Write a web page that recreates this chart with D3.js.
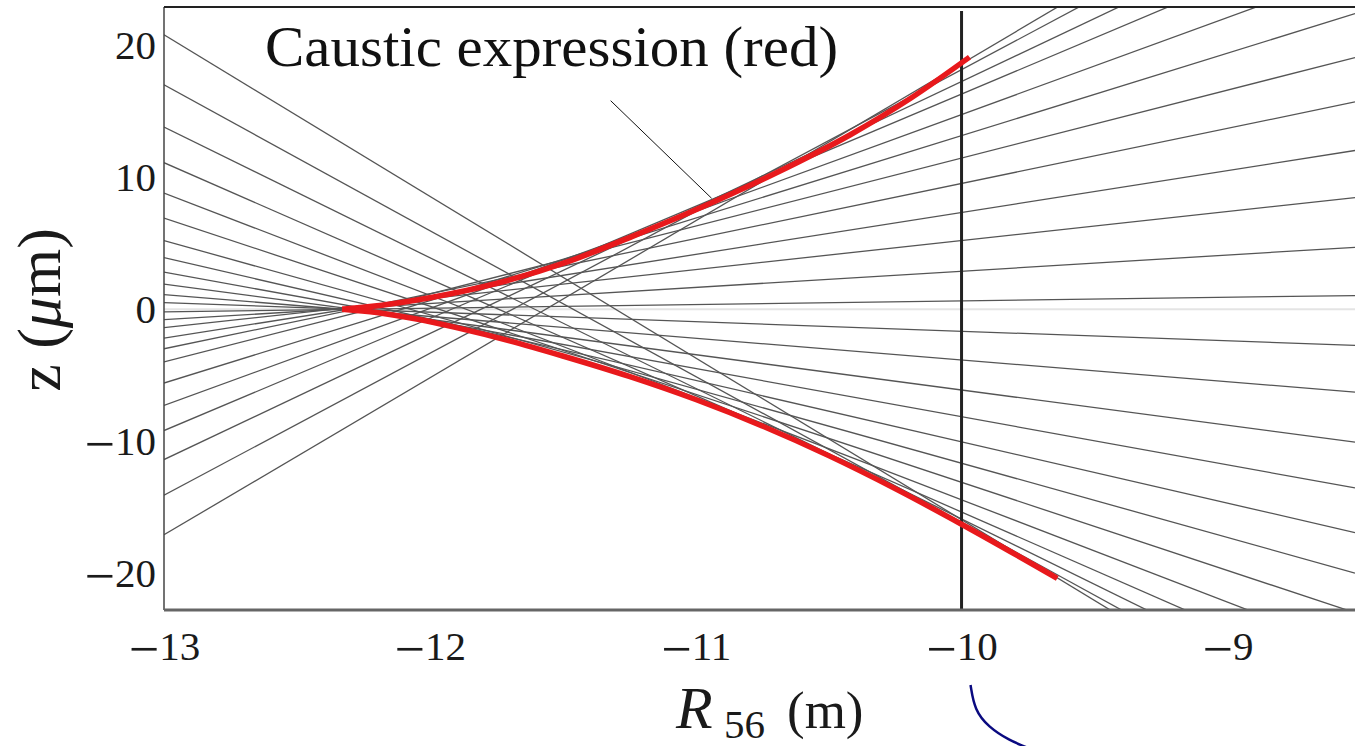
<!DOCTYPE html>
<html>
<head>
<meta charset="utf-8">
<script src="https://cdn.jsdelivr.net/npm/d3@7"></script>
<style>
  body { margin: 0; background: #fff; }
  svg { display: block; }
  .tick text { font-family: "Liberation Serif", serif; font-size: 41px; fill: #1a1a1a; }
</style>
</head>
<body>
<div id="chart"></div>
<script>
// axis ticks
const tickR = [-13, -12, -11, -10, -9]
const tickZ = [-20, -10, 0, 10, 20]

// rays: z (um) at R56 = -13 and at R56 = -9
const rayZStart = [20.8, 17.0, 13.8, 11.1, 8.8, 6.9, 5.2, 3.9, 2.8, 1.9, 1.1, 0.5,
                   -17.1, -14.1, -11.4, -9.2, -7.3, -5.6, -4.0, -3.0, -2.2, -1.4, -0.8, -0.2]
const rayZEnd   = [-28.2, -27.2, -25.8, -24.2, -22.2, -19.8, -17.3, -14.7, -11.8, -8.8, -5.5, -2.4,
                   30.5, 28.9, 26.8, 24.8, 22.1, 19.4, 16.6, 13.7, 10.5, 7.4, 4.1, 0.9]

// caustic branches (red)
const upperR = [-12.33, -12.18, -11.99, -11.74, -11.48, -11.24, -10.98, -10.70, -10.42, -10.19, -9.97]
const upperZ = [0.0, 0.3, 0.9, 2.0, 3.6, 5.5, 7.7, 10.3, 13.2, 16.0, 19.1]
const lowerR = [-12.33, -12.2, -12.05, -11.9, -11.7, -11.5, -11.25, -11.0, -10.75, -10.5, -10.25, -10.0, -9.64]
const lowerZ = [0.0, -0.25, -0.75, -1.4, -2.4, -3.55, -5.1, -6.85, -8.85, -11.1, -13.6, -16.3, -20.4]

const markerR = -10
const labelText = "Caustic expression (red)"

const width  = 1355
const height = 746
const margin = {top: 7, right: 0, bottom: 136, left: 164}
const tickFontSize = 41

const x = d3.scaleLinear().domain([-13, -8.52]).range([margin.left, width - margin.right])
const y = d3.scaleLinear().domain([-22.8, 22.9]).range([height - margin.bottom, margin.top])

const svg = d3.select("#chart").append("svg")
  .attr("width", width)
  .attr("height", height)

svg.append("defs").append("clipPath")
  .attr("id", "plot-clip")
  .append("rect")
  .attr("x", x.range()[0])
  .attr("y", y.range()[1])
  .attr("width", x.range()[1] - x.range()[0])
  .attr("height", y.range()[0] - y.range()[1])

let plot = svg.append("g").attr("clip-path", "url(#plot-clip)")

// faint z = 0 line
plot.append("line")
  .attr("x1", x(-13)).attr("x2", x(x.domain()[1]))
  .attr("y1", y(0)).attr("y2", y(0))
  .attr("stroke", "#e4e4e4")
  .attr("stroke-width", 2)

// the rays, straight lines extended to the right edge
let rEnd = x.domain()[1]
let rays = rayZStart.map(function(z0, i) {
  let slope = (rayZEnd[i] - z0) / 4
  return [[-13, z0], [rEnd, z0 + slope * (rEnd + 13)]]
})

let line = d3.line()
  .x(function(d) { return x(d[0]) })
  .y(function(d) { return y(d[1]) })

plot.selectAll("path.ray")
  .data(rays)
  .enter().append("path")
  .attr("class", "ray")
  .attr("d", line)
  .attr("fill", "none")
  .attr("stroke", "#555")
  .attr("stroke-width", 1.3)

// vertical marker at R56 = -10
plot.append("line")
  .attr("x1", x(markerR)).attr("x2", x(markerR))
  .attr("y1", y.range()[1] + 4).attr("y2", y.range()[0])
  .attr("stroke", "#222")
  .attr("stroke-width", 3)

// caustic
let curve = d3.line()
  .x(function(d) { return x(d[0]) })
  .y(function(d) { return y(d[1]) })
  .curve(d3.curveMonotoneX)

let branches = [
  upperR.map(function(r, i) { return [r, upperZ[i]] }),
  lowerR.map(function(r, i) { return [r, lowerZ[i]] })
]

plot.selectAll("path.caustic")
  .data(branches)
  .enter().append("path")
  .attr("class", "caustic")
  .attr("d", curve)
  .attr("fill", "none")
  .attr("stroke", "#e8191c")
  .attr("stroke-width", 5.5)

// frame: left axis, bottom axis, top border
svg.append("line")
  .attr("x1", x.range()[0]).attr("x2", x.range()[0])
  .attr("y1", y.range()[1]).attr("y2", y.range()[0])
  .attr("stroke", "#444").attr("stroke-width", 1.5)
svg.append("line")
  .attr("x1", x.range()[0]).attr("x2", x.range()[1])
  .attr("y1", y.range()[0]).attr("y2", y.range()[0])
  .attr("stroke", "#666").attr("stroke-width", 3)
svg.append("line")
  .attr("x1", x.range()[0]).attr("x2", x.range()[1])
  .attr("y1", y.range()[1]).attr("y2", y.range()[1])
  .attr("stroke", "#222").attr("stroke-width", 2)

// tick labels
let xAxis = d3.axisBottom(x).tickValues(tickR).tickSize(0).tickPadding(21)
let yAxis = d3.axisLeft(y).tickValues(tickZ).tickSize(0).tickPadding(8)

let gx = svg.append("g")
  .attr("transform", "translate(0," + y.range()[0] + ")")
  .call(xAxis)
gx.select(".domain").remove()

let gy = svg.append("g")
  .attr("transform", "translate(" + x.range()[0] + ",0)")
  .call(yAxis)
gy.select(".domain").remove()

// the original uses a long, low minus sign: rebuild negative labels as two tspans
function longMinus(sel) {
  sel.selectAll(".tick text").each(function(d) {
    let t = d3.select(this)
    if (d >= 0) { return }
    let base = parseFloat(t.attr("dy")) * tickFontSize
    t.attr("dy", null).text("")
    t.append("tspan").attr("font-size", 54).attr("dy", base + 7).text("\u2212")
    t.append("tspan").attr("dy", -7).text(Math.abs(d))
  })
}
longMinus(gx)
longMinus(gy)

// axis titles
const titleFont = "Liberation Serif, serif"
svg.append("text")
  .attr("x", 676).attr("y", 728)
  .attr("font-family", titleFont).attr("font-size", 60).attr("font-style", "italic")
  .attr("fill", "#1a1a1a")
  .text("R")
svg.append("text")
  .attr("x", 724).attr("y", 738)
  .attr("font-family", titleFont).attr("font-size", 41)
  .attr("fill", "#1a1a1a")
  .text("56")
svg.append("text")
  .attr("x", 787).attr("y", 728)
  .attr("font-family", titleFont).attr("font-size", 53)
  .attr("fill", "#1a1a1a")
  .text("(m)")

let yt = svg.append("text")
  .attr("transform", "translate(60,310) rotate(-90)")
  .attr("text-anchor", "middle")
  .attr("font-family", titleFont)
  .attr("font-size", 62)
  .attr("fill", "#1a1a1a")
yt.append("tspan").text("z (")
yt.append("tspan").attr("font-style", "italic").text("μ")
yt.append("tspan").text("m)")

// annotation
svg.append("text")
  .attr("x", x(-12.62))
  .attr("y", 66)
  .attr("font-family", titleFont)
  .attr("font-size", 58)
  .attr("textLength", 573)
  .attr("lengthAdjust", "spacingAndGlyphs")
  .attr("fill", "#111")
  .text(labelText)

svg.append("line")
  .attr("x1", x(-11.32)).attr("y1", y(15.8))
  .attr("x2", x(-10.94)).attr("y2", y(8.4))
  .attr("stroke", "#111")
  .attr("stroke-width", 1)

// blue arc below the -10 label
let arcPts = [[0, 0], [4, 25], [18, 42], [38, 55], [60, 64]]
svg.append("path")
  .attr("transform", "translate(" + (x(markerR) + 9) + ",685)")
  .attr("d", d3.line().curve(d3.curveBasis)(arcPts))
  .attr("fill", "none")
  .attr("stroke", "#0a0a80")
  .attr("stroke-width", 2.5)
</script>
</body>
</html>
